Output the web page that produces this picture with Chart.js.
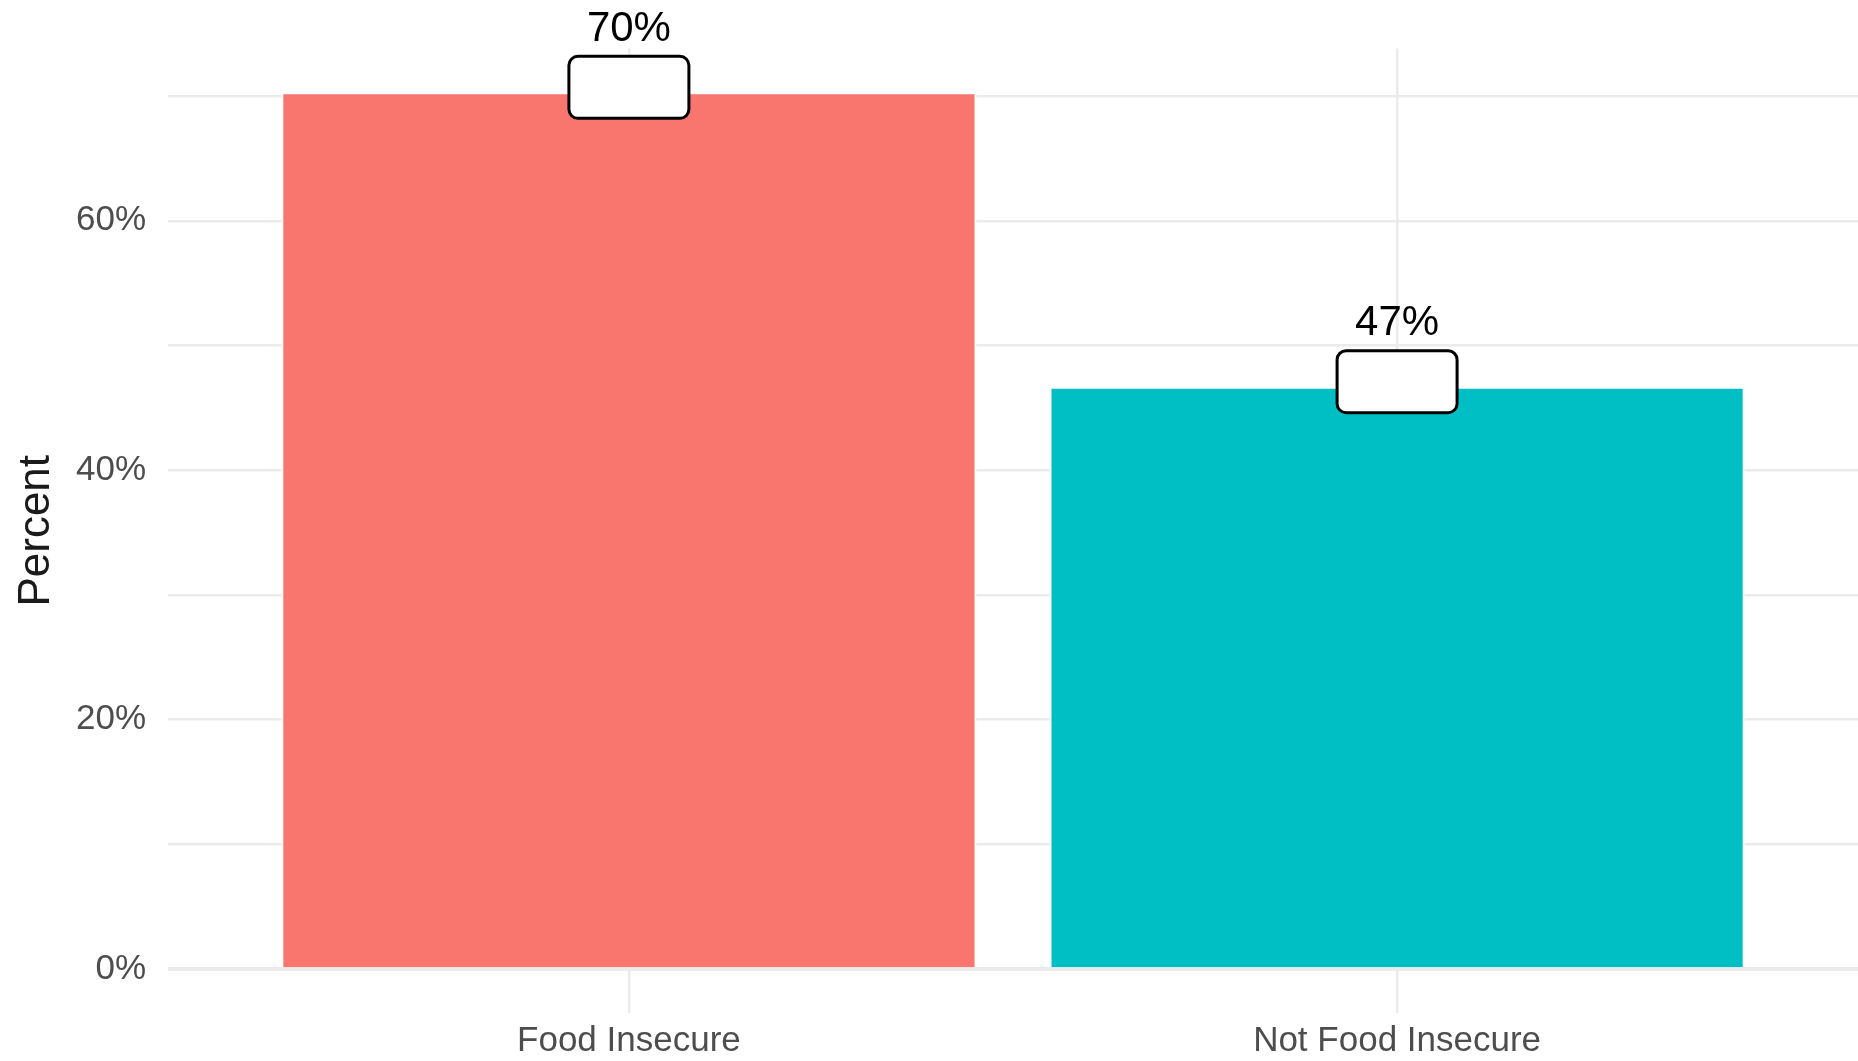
<!DOCTYPE html>
<html lang="en">
  <head>
    <meta charset="UTF-8" />
    <title>Food insecurity</title>
    <script src="https://cdn.jsdelivr.net/npm/chart.js@4"></script>
    <style>
      html, body { margin: 0; padding: 0; background: #fff; }
      canvas { display: block; }
    </style>
  </head>
  <body>
    <canvas id="chart" width="1858" height="1061"></canvas>

    <script>
      // data
      const categories = ["Food Insecure", "Not Food Insecure"];
      const percents = [70.3, 46.7];
      const labelTexts = ["70%", "47%"];
      const barColors = ["#F8766D", "#00BFC4"];
      const yTicks = [0, 10, 20, 30, 40, 50, 60, 70];
      const yLabelled = [0, 20, 40, 60];

      const gridColor = "#EBEBEB";

      // white rounded box on each bar top, value text above it
      const boxLabels = {
        id: "boxLabels",
        afterDatasetsDraw(chart) {
          const ctx = chart.ctx;
          const meta = chart.getDatasetMeta(0);
          meta.data.forEach((bar, i) => {
            const w = 120, h = 62, r = 9;
            const cx = bar.x, cy = bar.y - 5;
            ctx.save();
            ctx.beginPath();
            ctx.roundRect(cx - w / 2, cy - h / 2, w, h, r);
            ctx.fillStyle = "#fff";
            ctx.fill();
            ctx.lineWidth = 3;
            ctx.strokeStyle = "#000";
            ctx.stroke();
            ctx.fillStyle = "#000";
            ctx.font = "42px 'Liberation Sans', Arial, sans-serif";
            ctx.textAlign = "center";
            ctx.textBaseline = "middle";
            ctx.fillText(labelTexts[i], cx, bar.y - 63);
            ctx.restore();
          });
        },
      };

      new Chart(document.getElementById("chart"), {
        type: "bar",
        data: {
          datasets: [
            {
              data: percents.map((v, i) => ({ x: i + 1, y: v })),
              backgroundColor: barColors,
              borderColor: "#fff",
              borderWidth: 2,
              categoryPercentage: 1,
              barPercentage: 0.905,
            },
          ],
        },
        options: {
          responsive: false,
          animation: false,
          devicePixelRatio: 1,
          layout: { padding: { top: 48.5, right: 0, left: 0, bottom: 0 } },
          plugins: {
            legend: { display: false },
            tooltip: { enabled: false },
          },
          scales: {
            x: {
              type: "linear",
              min: 0.4,
              max: 2.6,
              offset: false,
              afterBuildTicks: (scale) => {
                scale.ticks = categories.map((c, i) => ({ value: i + 1 }));
              },
              afterFit: (scale) => {
                scale.height = 48;
              },
              border: { display: false },
              grid: { color: gridColor, lineWidth: 2.5, drawTicks: false, offset: false },
              ticks: {
                padding: 7,
                color: "#4D4D4D",
                font: { family: "'Liberation Sans', Arial, sans-serif", size: 35 },
                maxRotation: 0,
                callback: (v) => categories[v - 1] || "",
              },
            },
            y: {
              min: -3.515,
              max: 73.815,
              afterBuildTicks: (scale) => {
                scale.ticks = yTicks.map((v) => ({ value: v }));
              },
              afterFit: (scale) => {
                scale.width = 168;
              },
              border: { display: false },
              grid: {
                color: gridColor,
                lineWidth: (c) => (c.tick && c.tick.value === 0 ? 4 : 2.5),
                drawTicks: false,
              },
              ticks: {
                padding: 22,
                color: "#4D4D4D",
                font: { family: "'Liberation Sans', Arial, sans-serif", size: 35 },
                callback: (v) => (yLabelled.includes(v) ? v + "%" : ""),
              },
              title: {
                display: true,
                text: "Percent",
                color: "#1A1A1A",
                padding: { top: 10, bottom: 0 },
                font: { family: "'Liberation Sans', Arial, sans-serif", size: 44 },
              },
            },
          },
        },
        plugins: [boxLabels],
      });
    </script>
  </body>
</html>
